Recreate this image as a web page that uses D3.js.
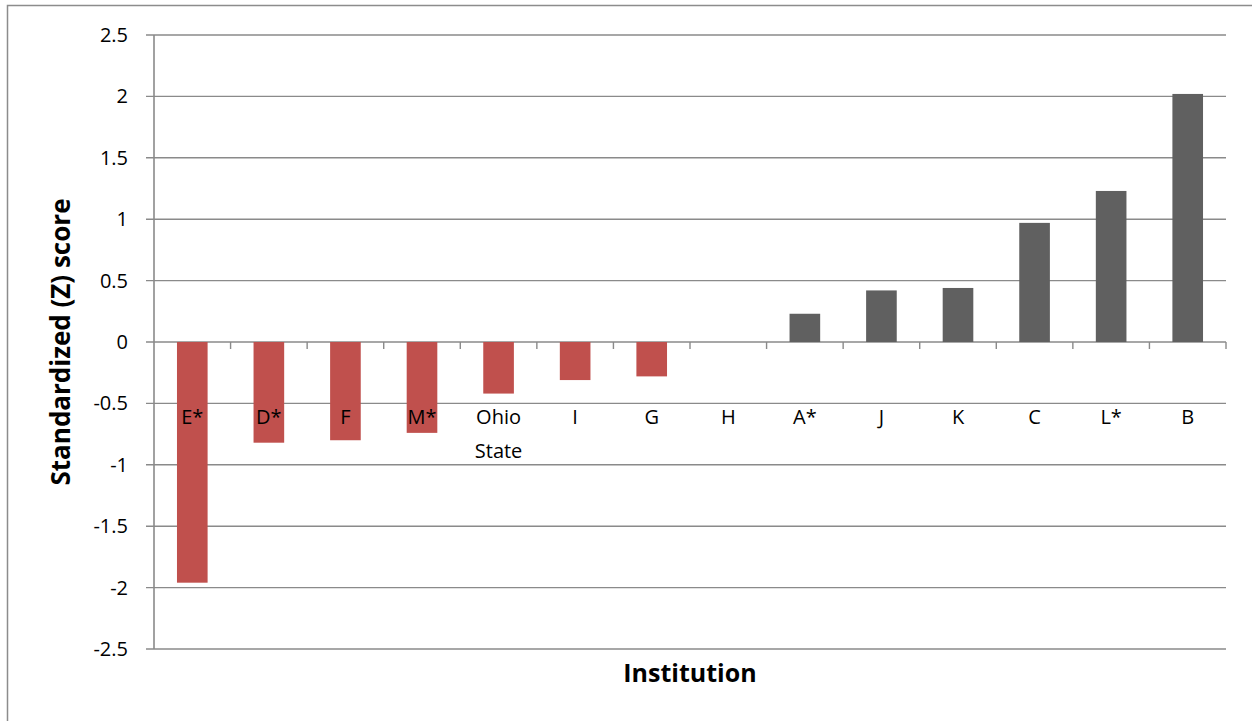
<!DOCTYPE html>
<html>
<head>
<meta charset="utf-8">
<script src="https://cdn.jsdelivr.net/npm/d3@7"></script>
<style>
  html, body { margin: 0; padding: 0; background: #fff; }
  svg { display: block; }
  text { font-family: "Open Sans", "Noto Sans", sans-serif; }
</style>
</head>
<body>
<svg id="chart" width="1252" height="721"></svg>
<script>
const categories = ["E*", "D*", "F", "M*", "Ohio State", "I", "G", "H", "A*", "J", "K", "C", "L*", "B"];
const zScores = [-1.96, -0.82, -0.80, -0.74, -0.42, -0.31, -0.28, 0, 0.23, 0.42, 0.44, 0.97, 1.23, 2.02];
const yTicks = [2.5, 2, 1.5, 1, 0.5, 0, -0.5, -1, -1.5, -2, -2.5];
const yTitle = "Standardized (Z) score";
const xTitle = "Institution";

(function () {
const svg = d3.select("#chart");
const pLeft = 154, pRight = 1226, pTop = 35, pBottom = 649;

// outer chart border
svg.append("rect").attr("x", 7.5).attr("y", 5.5).attr("width", 1260).attr("height", 730)
  .attr("fill", "none").attr("stroke", "#8c8c8c").attr("stroke-width", 1.5);

const x = d3.scaleBand().domain(categories).range([pLeft, pRight]).paddingInner(0.6).paddingOuter(0.3);
const xBand = d3.scaleBand().domain(categories).range([pLeft, pRight]);
const y = d3.scaleLinear().domain([-2.5, 2.5]).range([pBottom, pTop]);

// gridlines
svg.append("g").selectAll("line").data(yTicks).join("line")
  .attr("x1", pLeft - 8).attr("x2", pRight)
  .attr("y1", d => y(d)).attr("y2", d => y(d))
  .attr("stroke", "#8a8a8a").attr("stroke-width", 1.4);

// y axis line
svg.append("line").attr("x1", pLeft).attr("x2", pLeft).attr("y1", pTop).attr("y2", pBottom)
  .attr("stroke", "#8a8a8a").attr("stroke-width", 1.6);

// y tick labels
svg.append("g").selectAll("text").data(yTicks).join("text")
  .attr("x", 128).attr("y", d => y(d)).attr("dy", "0.35em")
  .attr("text-anchor", "end").attr("font-size", 20).attr("fill", "#000")
  .text(d => d);

// bars
svg.append("g").selectAll("rect").data(categories.map((c, i) => ({c, v: zScores[i]}))).join("rect")
  .attr("x", d => x(d.c)).attr("width", x.bandwidth())
  .attr("y", d => y(Math.max(0, d.v))).attr("height", d => Math.abs(y(d.v) - y(0)))
  .attr("fill", d => d.v < 0 ? "#C0504D" : "#606060");

// x axis ticks at category boundaries
const bounds = categories.map(c => xBand(c) + xBand.bandwidth());
svg.append("g").selectAll("line").data(bounds).join("line")
  .attr("x1", d => d).attr("x2", d => d).attr("y1", y(0)).attr("y2", y(0) + 7)
  .attr("stroke", "#8a8a8a").attr("stroke-width", 1.4);

// category labels
const lab = svg.append("g").selectAll("text").data(categories).join("text")
  .attr("x", d => xBand(d) + xBand.bandwidth() / 2).attr("y", 424)
  .attr("text-anchor", "middle").attr("font-size", 20).attr("fill", "#000");
lab.each(function(d) {
  const words = d.split(" ");
  const t = d3.select(this);
  words.forEach((w, i) => {
    t.append("tspan").attr("x", xBand(d) + xBand.bandwidth() / 2).attr("dy", i === 0 ? 0 : 34).text(w);
  });
});

// axis titles
svg.append("text").attr("x", 690).attr("y", 682).attr("text-anchor", "middle")
  .attr("font-size", 25).attr("font-weight", "bold").attr("fill", "#000").text(xTitle);
svg.append("text").attr("transform", "translate(70,342) rotate(-90)").attr("text-anchor", "middle")
  .attr("font-size", 26).attr("font-weight", "bold").attr("fill", "#000").text(yTitle);
})();
</script>
</body>
</html>
